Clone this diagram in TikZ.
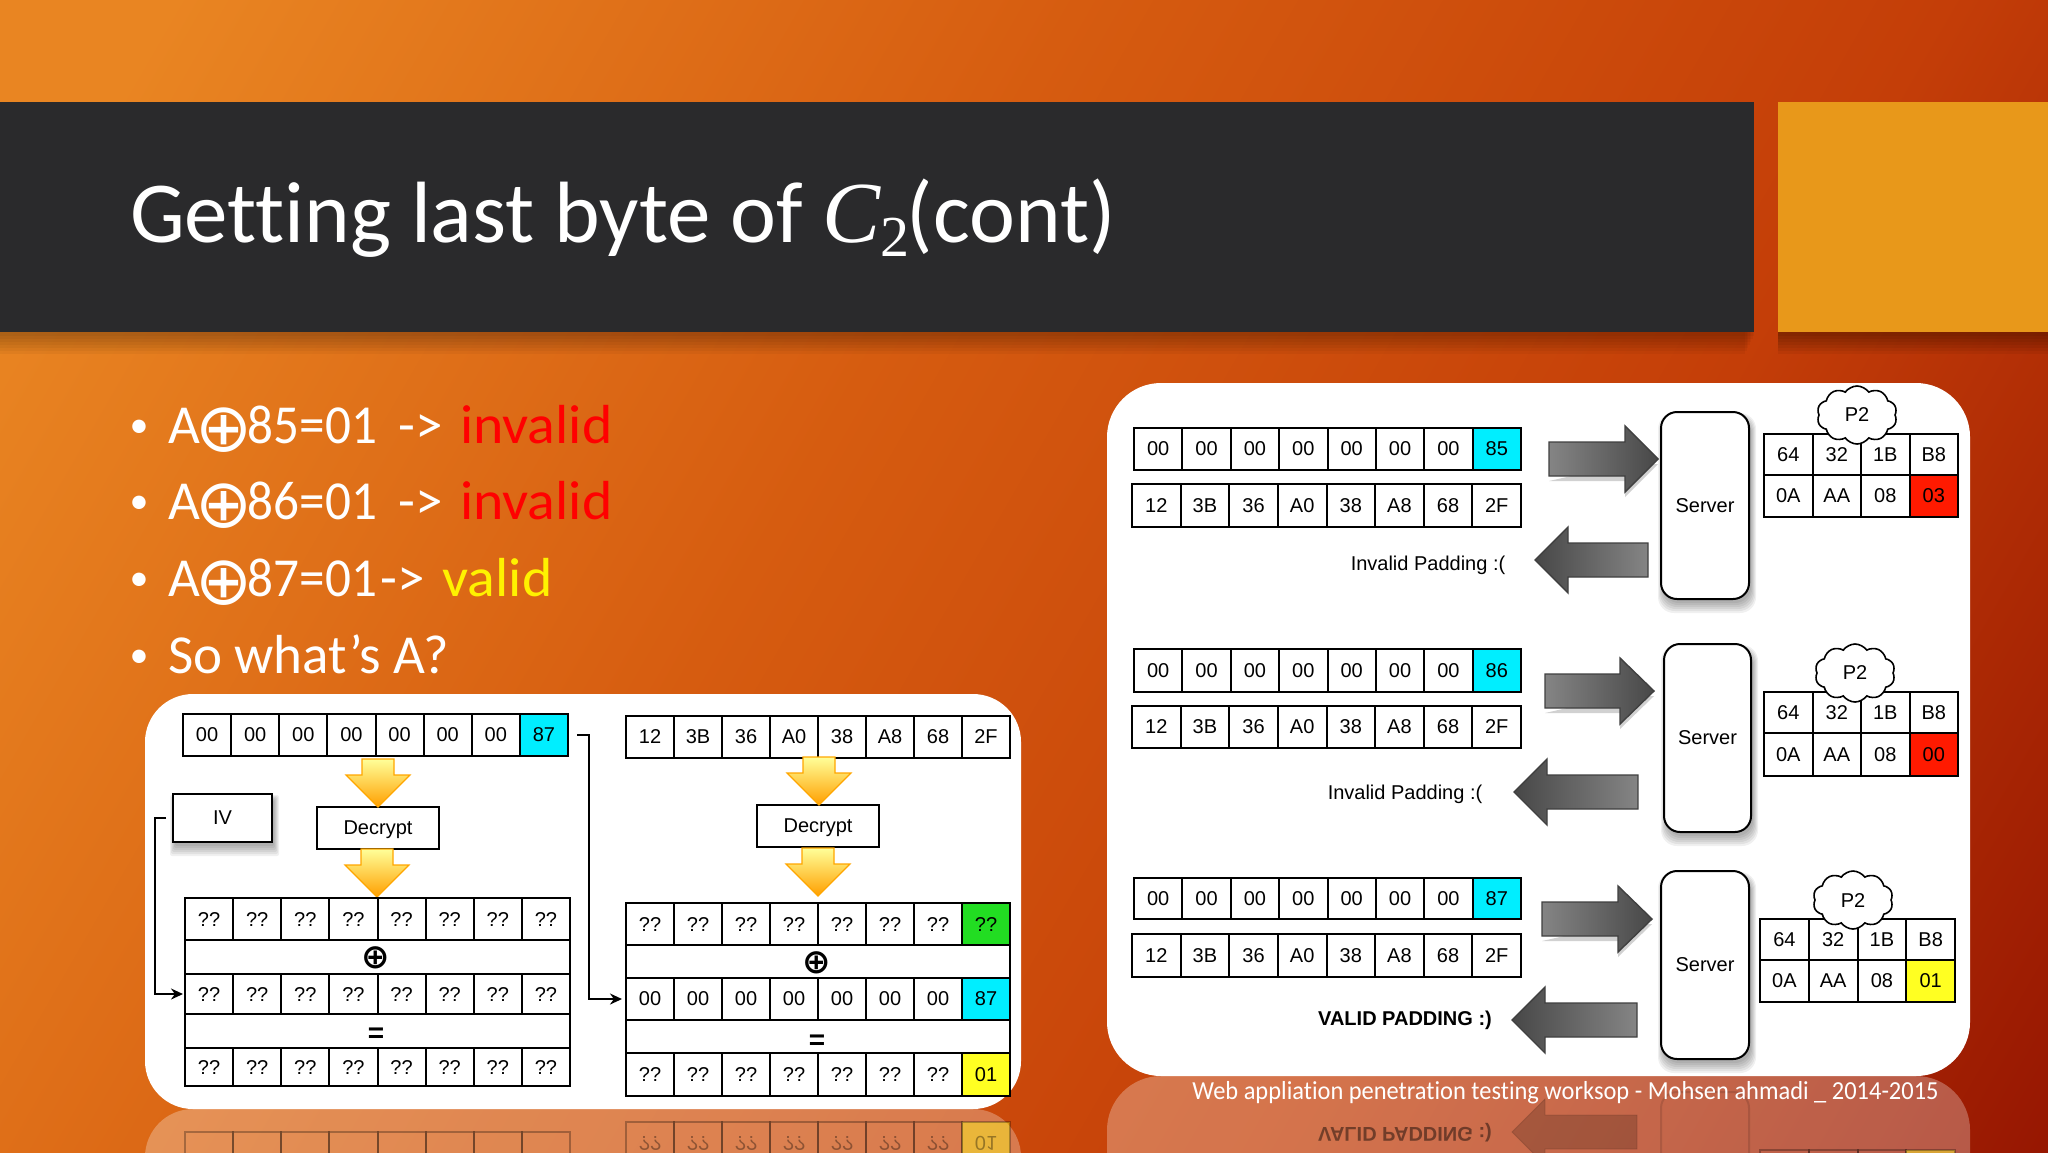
\documentclass[tikz,border=0pt]{standalone}
\usepackage{fontspec}
\setmainfont{Carlito}[Ligatures=NoCommon]
\newfontfamily\helv{Liberation Sans}
\newfontfamily\mserif{Liberation Serif}
\newfontfamily\dejavu{DejaVu Sans}
\newfontfamily\narrowbody{Carlito}[FakeStretch=.93,Ligatures=NoCommon]
\newfontfamily\widebody{Carlito}[FakeStretch=1.05,Ligatures=NoCommon]
\newfontfamily\footfont{Carlito}[FakeStretch=.94,Ligatures=NoCommon]
\usetikzlibrary{arrows.meta,shapes.symbols}
\definecolor{barcol}{HTML}{2A2A2C}
\definecolor{sqcol}{HTML}{E8981A}
\definecolor{bgA}{HTML}{E98522}
\definecolor{bgB}{HTML}{D65C10}
\definecolor{bgC}{HTML}{C43E08}
\definecolor{bgD}{HTML}{8E0F00}
\definecolor{cyancell}{HTML}{00EEFF}
\definecolor{greencell}{HTML}{22DD22}
\definecolor{redcell}{HTML}{FF1A00}
\definecolor{yellowcell}{HTML}{FFFF22}
\pgfdeclarehorizontalshading{slidebg}{100bp}{color(0bp)=(bgA); color(20bp)=(bgA); color(43bp)=(bgB); color(65bp)=(bgC); color(88bp)=(bgD); color(100bp)=(bgD)}
\tikzset{
  cell/.style={draw=black,line width=1pt,inner sep=0pt,outer sep=0pt,font=\helv\fontsize{10}{12}\selectfont,text=black},
  rcell/.style={draw=black,draw opacity=.28,line width=1pt,inner sep=0pt,outer sep=0pt,font=\helv\fontsize{10}{12}\selectfont,text=black,text opacity=.35,yscale=-1,transform shape},
  barbox/.style={draw=black,line width=1pt,fill=white,inner sep=0pt,outer sep=0pt},
  labelbox/.style={draw=black,line width=1pt,fill=white,inner sep=0pt,outer sep=0pt,text depth=0pt,font=\helv\fontsize{10}{12}\selectfont},
  serverbox/.style={draw=black,line width=1pt,fill=white,rounded corners=8pt,inner sep=0pt,outer sep=0pt,font=\helv\fontsize{10}{12}\selectfont},
  cloudbox/.style={cloud,cloud puffs=10,cloud puff arc=110,draw=black,line width=.8pt,fill=white,inner sep=0pt,aspect=1.4,minimum width=40pt,minimum height=29pt,font=\helv\fontsize{10}{12}\selectfont},
  conn/.style={draw=black,line width=1pt,-{Stealth[length=6pt,width=5.5pt]}},
  yarrow/.style={top color=yellow!40!white,bottom color=orange!75!yellow,draw=orange!70!yellow,line width=.6pt},
  garrowr/.style={left color=black!48,right color=black!72,draw=black!75,line width=.7pt},
  garrowl/.style={left color=black!72,right color=black!48,draw=black!75,line width=.7pt},
  plaintext/.style={inner sep=0pt,outer sep=0pt,anchor=base west},
  bullet/.style={inner sep=0pt,outer sep=0pt,anchor=base,text=white,font=\fontsize{19}{22}\selectfont},
  bodytext/.style={plaintext,text=white,font=\fontsize{27.5}{30}\selectfont},
  symbolmark/.style={inner sep=0pt,outer sep=0pt,text=black,font=\dejavu\bfseries\fontsize{17}{20}\selectfont},
  eqmark/.style={inner sep=0pt,outer sep=0pt,text=black,font=\helv\bfseries\fontsize{14}{16}\selectfont},
  panel/.style={fill=white,rounded corners=24pt},
  panelrefl/.style={fill=white,opacity=.28,rounded corners=24pt},
}
\newcommand\circplus{\hspace{-2pt}\raisebox{-4pt}{\dejavu\fontsize{34}{34}\selectfont ⊕}\hspace{-2.5pt}}
% row of cells: name, x0, x1, y0, y1, columns, last colour, labels
\newcommand\cellrow[8]{%
  \pgfmathsetmacro\cw{(#3-#2)/#6}%
  \pgfmathsetmacro\chh{#5-#4}%
  \foreach \t [count=\i] in {#8}{%
    \pgfmathsetmacro\cx{#2+(\i-.5)*\cw}%
    \pgfmathtruncatemacro\islast{\i==#6?1:0}%
    \ifnum\islast=1
      \node[cell,fill=#7,minimum width=\cw*.5pt,minimum height=\chh*.5pt] (#1-\i) at (\cx,{(#4+#5)/2}) {\t};
    \else
      \node[cell,fill=white,minimum width=\cw*.5pt,minimum height=\chh*.5pt] (#1-\i) at (\cx,{(#4+#5)/2}) {\t};
    \fi
  }}
\newcommand\reflrow[8]{%
  \pgfmathsetmacro\cw{(#3-#2)/#6}%
  \pgfmathsetmacro\chh{#5-#4}%
  \foreach \t [count=\i] in {#8}{%
    \pgfmathsetmacro\cx{#2+(\i-.5)*\cw}%
    \pgfmathtruncatemacro\islast{\i==#6?1:0}%
    \ifnum\islast=1
      \node[rcell,fill=#7,fill opacity=.45,minimum width=\cw*.5pt,minimum height=\chh*.5pt] (#1-\i) at (\cx,{(#4+#5)/2}) {\t};
    \else
      \node[rcell,minimum width=\cw*.5pt,minimum height=\chh*.5pt] (#1-\i) at (\cx,{(#4+#5)/2}) {\t};
    \fi
  }}
\newcommand\softshadow[5]{% x0 y0 x1 y1 radius
  \foreach \e in {0,2,4,6,8,10}{%
    \fill[black,opacity=.06,rounded corners=#5] ({#1-\e/2+2},{#2+6-\e/2}) rectangle ({#3+\e/2+2},{#4+4+\e});
  }}
\newcommand\yellowarrow[4]{% cx ytop ybase ytip
  \draw[yarrow] ({#1-16},#2) -- ({#1+16},#2) -- ({#1+16},#3) -- ({#1+32},#3) -- (#1,#4) -- ({#1-32},#3) -- ({#1-16},#3) -- cycle;}
\newcommand\greyright[4]{% x0 xbase xtip yc
  \fill[black,opacity=.18] (#1,{#4+17+5}) -- (#2,{#4+17+5}) -- (#2,{#4+33+5}) -- (#3,{#4+5}) -- (#2,{#4+5}) -- cycle;
  \draw[garrowr] (#1,{#4-17}) -- (#2,{#4-17}) -- (#2,{#4-33}) -- (#3,#4) -- (#2,{#4+33}) -- (#2,{#4+17}) -- (#1,{#4+17}) -- cycle;}
\newcommand\greyleft[4]{% xtip xbase x1 yc
  \draw[garrowl] (#3,{#4-17}) -- (#2,{#4-17}) -- (#2,{#4-33}) -- (#1,#4) -- (#2,{#4+33}) -- (#2,{#4+17}) -- (#3,{#4+17}) -- cycle;}
\begin{document}
\begin{tikzpicture}[x=.5pt,y=-.5pt]
\useasboundingbox (0,0) rectangle (2048,1152);
\shade[shading=slidebg,shading angle=330] (0,0) rectangle (2048,1152);
% shadows of the header
\foreach \e in {0,3,6,9,12,15,18}{
  \fill[black,opacity=.04] (0,332) rectangle ({1754-\e/2},{336+\e});
  \fill[black,opacity=.05] (1778,332) rectangle (2048,{336+\e});
}
\fill[barcol] (0,102) rectangle (1754,332);
\fill[sqcol] (1778,102) rectangle (2048,332);
\node[plaintext,text=white,font=\fontsize{43.5}{48}\selectfont] (title) at (130,242)
  {Getting last byte of {\mserif\itshape C}\raisebox{-7pt}{\mserif\fontsize{29}{30}\selectfont 2}\hspace{-1.5pt}(cont)};
% bullets
\node[bullet] (b1) at (139,437) {•};
\node[bullet] (b2) at (139,513.5) {•};
\node[bullet] (b3) at (139,590) {•};
\node[bullet] (b4) at (139,667) {•};
\node[bodytext] (t1) at (168,443) {A\circplus{\narrowbody 85=01}\hspace{4.5pt} ->\hspace{2.5pt} \textcolor{red}{\widebody invalid}};
\node[bodytext] (t2) at (168,519.5) {A\circplus{\narrowbody 86=01}\hspace{4.5pt} ->\hspace{2.5pt} \textcolor{red}{\widebody invalid}};
\node[bodytext] (t3) at (168,596) {A\circplus{\narrowbody 87=01}\hspace{2pt}->\hspace{2.5pt} \textcolor{yellow}{\widebody valid}};
\node[bodytext] (t4) at (168,673) {So what’s A?};
% reflections
\begin{scope}
\clip (0,0) rectangle (2048,1152);
\fill[panelrefl] (145,1109) rectangle (1021,1524);
\reflrow{rla}{185}{570}{1132}{1170}{8}{none}{,,,,,,,}
\reflrow{rra}{626}{1010}{1122}{1165}{8}{yellowcell}{??,??,??,??,??,??,??,01}
\fill[panelrefl,rounded corners=27pt] (1107,1076) rectangle (1970,1769);
\node[rcell,draw opacity=.12,rounded corners=8pt,minimum width=44pt,minimum height=94pt] (rserver) at (1705,1186) {};
\draw[black,opacity=.15,fill=black,fill opacity=.18] (1637,1115) -- (1545,1115) -- (1545,1099) -- (1512,1132) -- (1545,1165) -- (1545,1149) -- (1637,1149) -- cycle;
\node[inner sep=0pt,text=black,text opacity=.45,yscale=-1,transform shape,font=\helv\bfseries\fontsize{10}{12}\selectfont] (rvalid) at (1405,1133) {VALID PADDING :)};
\reflrow{rtb}{1760}{1955}{1150}{1192}{4}{yellowcell}{,,,}
\end{scope}
% left panel
\fill[panel] (145,694) rectangle (1021,1109);
\cellrow{la}{183}{568}{714}{756}{8}{cyancell}{00,00,00,00,00,00,00,87}
\cellrow{ra}{626}{1010}{716}{758}{8}{white}{12,3B,36,A0,38,A8,68,2F}
\softshadow{173}{794}{272}{842}{1pt}
\node[labelbox,minimum width=49.5pt,minimum height=24pt] (iv) at (222.5,818) {IV};
\node[labelbox,minimum width=61pt,minimum height=21pt] (decl) at (378,828) {Decrypt};
\node[labelbox,minimum width=61pt,minimum height=21pt] (decr) at (818,826) {Decrypt};
\yellowarrow{378}{759}{775}{807}
\yellowarrow{377}{849}{865}{897}
\yellowarrow{819}{757}{773}{805}
\yellowarrow{818}{848}{864}{896}
\cellrow{lb}{185}{570}{898}{940}{8}{white}{??,??,??,??,??,??,??,??}
\node[barbox,minimum width=192.5pt,minimum height=17pt] (lx) at (377.5,957) {};
\cellrow{lc}{185}{570}{974}{1014}{8}{white}{??,??,??,??,??,??,??,??}
\node[barbox,minimum width=192.5pt,minimum height=17pt] (lq) at (377.5,1031) {};
\cellrow{ld}{185}{570}{1048}{1086}{8}{white}{??,??,??,??,??,??,??,??}
\cellrow{rb}{626}{1010}{903}{945}{8}{greencell}{??,??,??,??,??,??,??,??}
\node[barbox,minimum width=192pt,minimum height=16.5pt] (rx) at (818,961.5) {};
\cellrow{rc}{626}{1010}{978}{1020}{8}{cyancell}{00,00,00,00,00,00,00,87}
\node[barbox,minimum width=192pt,minimum height=16.5pt] (rq) at (818,1036.5) {};
\cellrow{rd}{626}{1010}{1053}{1096}{8}{yellowcell}{??,??,??,??,??,??,??,01}
\node[symbolmark] (lxm) at (376,958) {⊕};
\node[symbolmark] (rxm) at (817,963) {⊕};
\node[eqmark] (lqm) at (376,1035) {=};
\node[eqmark] (rqm) at (817,1042) {=};
\draw[conn,shorten <=3.5pt,shorten >=1pt] (iv.west) -- ++(-18,0) |- (lc-1.west);
\draw[conn,shorten <=4.5pt,shorten >=2pt] (la-8.east) -- ++(21,0) |- (rc-1.west);
% right panel
\fill[panel,rounded corners=27pt] (1107,383) rectangle (1970,1076);
\cellrow{a1}{1134}{1521}{428}{470}{8}{cyancell}{00,00,00,00,00,00,00,85}
\cellrow{a2}{1132}{1521}{484}{527}{8}{white}{12,3B,36,A0,38,A8,68,2F}
\cellrow{b1r}{1134}{1521}{649}{692}{8}{cyancell}{00,00,00,00,00,00,00,86}
\cellrow{b2r}{1132}{1521}{706}{748}{8}{white}{12,3B,36,A0,38,A8,68,2F}
\cellrow{c1}{1134}{1521}{878}{919}{8}{cyancell}{00,00,00,00,00,00,00,87}
\cellrow{c2}{1132}{1521}{934}{977}{8}{white}{12,3B,36,A0,38,A8,68,2F}
\softshadow{1661}{412}{1749}{599}{8pt}
\softshadow{1664}{644}{1751}{832}{8pt}
\softshadow{1661}{871}{1749}{1059}{8pt}
\node[serverbox,minimum width=44pt,minimum height=93.5pt] (s1) at (1705,505.5) {Server};
\node[serverbox,minimum width=43.5pt,minimum height=94pt] (s2) at (1707.5,738) {Server};
\node[serverbox,minimum width=44pt,minimum height=94pt] (s3) at (1705,965) {Server};
\greyright{1549}{1625}{1658}{459}
\greyleft{1535}{1568}{1648}{560}
\greyright{1545}{1620}{1654}{691}
\greyleft{1514}{1547}{1638}{792}
\greyright{1542}{1618}{1652}{919}
\greyleft{1512}{1545}{1637}{1020}
\node[inner sep=0pt,font=\helv\fontsize{10}{12}\selectfont] (m1) at (1428,565) {Invalid Padding :(};
\node[inner sep=0pt,font=\helv\fontsize{10}{12}\selectfont] (m2) at (1405,794) {Invalid Padding :(};
\node[inner sep=0pt,font=\helv\bfseries\fontsize{10}{12}\selectfont] (m3) at (1405,1020) {VALID PADDING :)};
\cellrow{p1a}{1764}{1958}{434}{475}{4}{white}{64,32,1B,B8}
\cellrow{p1b}{1764}{1958}{475}{517}{4}{redcell}{0A,AA,08,03}
\cellrow{p2a}{1764}{1958}{692}{733}{4}{white}{64,32,1B,B8}
\cellrow{p2b}{1764}{1958}{733}{776}{4}{redcell}{0A,AA,08,00}
\cellrow{p3a}{1760}{1955}{919}{960}{4}{white}{64,32,1B,B8}
\cellrow{p3b}{1760}{1955}{960}{1002}{4}{yellowcell}{0A,AA,08,01}
\node[cloudbox] (cl1) at (1857,415) {P2};
\node[cloudbox] (cl2) at (1855,673) {P2};
\node[cloudbox] (cl3) at (1853,900) {P2};
\node[inner sep=0pt,text=white,anchor=base west,font=\footfont\fontsize{13}{15}\selectfont] (foot) at (1192,1099) {Web appliation penetration testing worksop - Mohsen ahmadi \_ 2014-2015};
\end{tikzpicture}
\end{document}
